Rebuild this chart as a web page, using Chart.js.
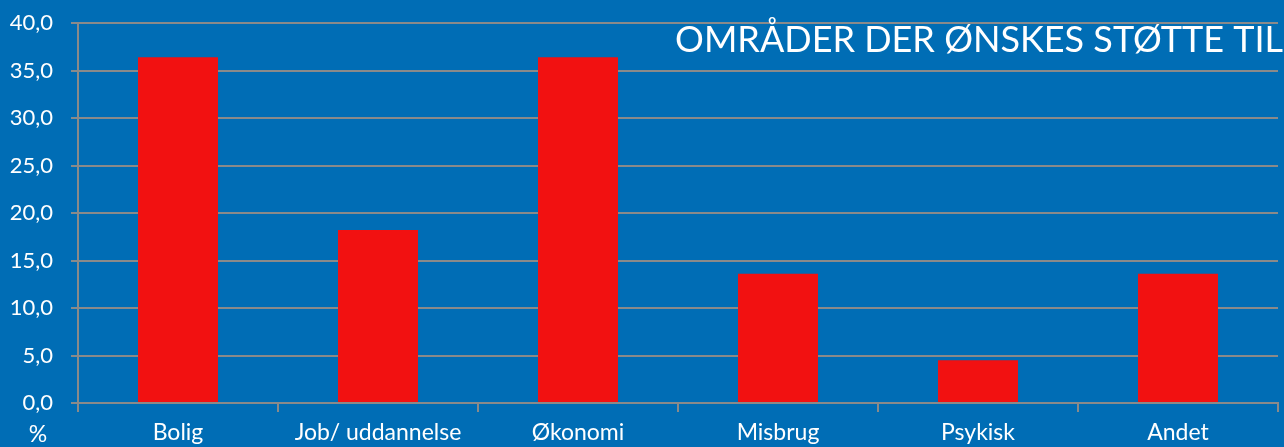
<!DOCTYPE html>
<html lang="da">
<head>
    <meta charset="UTF-8">
    <title>Områder der ønskes støtte til</title>
    <script src="https://cdn.jsdelivr.net/npm/chart.js@4.4.1/dist/chart.umd.min.js"></script>
    <style>
        body {
            margin: 0;
            background-color: #006db5;
            overflow: hidden;
        }
        canvas {
            display: block;
        }
    </style>
</head>
<body>
    <canvas id="supportChart" width="1284" height="447"></canvas>

    <script>
        // Data
        const categories = ['Bolig', 'Job/ uddannelse', 'Økonomi', 'Misbrug', 'Psykisk', 'Andet'];
        const percentages = [36.4, 18.2, 36.4, 13.6, 4.5, 13.6];
        const yMin = 0, yMax = 40, yStep = 5;
        const chartTitle = 'OMRÅDER DER ØNSKES STØTTE TIL';
        const unitLabel = '%';

        const gridColor = '#8a8a8a';
        const fontFamily = 'Lato, "Open Sans", sans-serif';

        // title in the top right corner and the "%" under the y labels
        const overlayText = {
            id: 'overlayText',
            afterDraw(chart) {
                const ctx = chart.ctx;
                const area = chart.chartArea;
                ctx.save();
                ctx.fillStyle = '#ffffff';
                ctx.textBaseline = 'alphabetic';

                ctx.font = '36px ' + fontFamily;
                ctx.textAlign = 'right';
                ctx.fillText(chartTitle, chart.width - 1, area.top + 29);

                ctx.font = '23px ' + fontFamily;
                ctx.textAlign = 'center';
                ctx.fillText(unitLabel, area.left - 40, area.bottom + 39);
                ctx.restore();
            }
        };

        const config = {
            type: 'bar',
            data: {
                labels: categories,
                datasets: [{
                    data: percentages,
                    backgroundColor: '#f21111',
                    borderWidth: 0,
                    categoryPercentage: 1.0,
                    barPercentage: 0.4
                }]
            },
            options: {
                responsive: false,
                animation: false,
                layout: {
                    padding: { top: 23, right: 6, left: 0, bottom: 0 }
                },
                plugins: {
                    legend: { display: false },
                    tooltip: { enabled: false },
                    title: { display: false }
                },
                scales: {
                    x: {
                        grid: {
                            drawOnChartArea: false,
                            drawTicks: true,
                            tickLength: 9,
                            color: gridColor,
                            lineWidth: 2,
                            offset: true
                        },
                        border: { color: gridColor, width: 2 },
                        ticks: {
                            color: '#ffffff',
                            font: { family: fontFamily, size: 23 },
                            padding: 7,
                            maxRotation: 0,
                            autoSkip: false
                        },
                        afterFit(scale) {
                            scale.height = 44;
                        }
                    },
                    y: {
                        min: yMin,
                        max: yMax,
                        grid: {
                            color: gridColor,
                            lineWidth: 2,
                            tickLength: 7
                        },
                        border: { color: gridColor, width: 2 },
                        ticks: {
                            stepSize: yStep,
                            color: '#ffffff',
                            font: { family: fontFamily, size: 22 },
                            padding: 18,
                            callback: v => v.toFixed(1).replace('.', ',')
                        },
                        afterFit(scale) {
                            scale.width = 78;
                            // label padding is horizontal here, don't push the plot down
                            scale.paddingTop = 0;
                            scale.paddingBottom = 0;
                        }
                    }
                }
            },
            plugins: [overlayText]
        };

        new Chart(document.getElementById('supportChart').getContext('2d'), config);
    </script>
</body>
</html>
